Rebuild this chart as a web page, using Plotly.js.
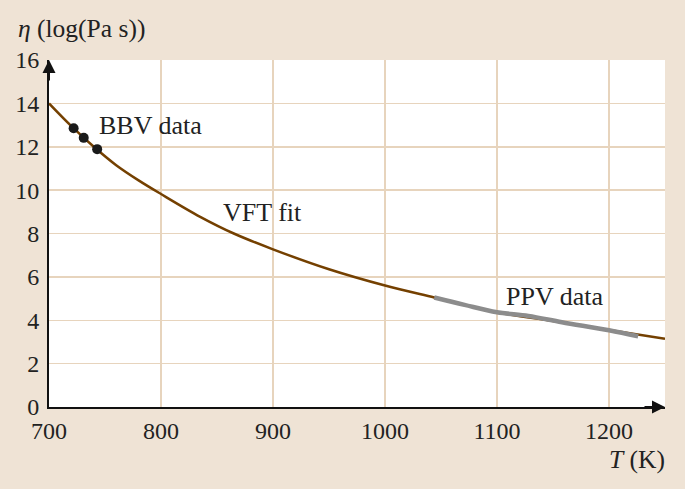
<!DOCTYPE html>
<html>
<head>
<meta charset="utf-8">
<script src="https://cdn.plot.ly/plotly-3.0.1.min.js"></script>
<style>html,body{margin:0;padding:0;background:#efe3d5;}</style>
</head>
<body>
<div id="chart" style="width:685px;height:489px;"></div>
<script>
// VFT fit curve (T in K, log viscosity)
const vftT   = [700, 720, 740, 760, 780, 800, 835, 865, 900, 950, 1000, 1044, 1100, 1150, 1200, 1250];
const vftEta = [14.0, 12.95, 12.0, 11.15, 10.45, 9.82, 8.77, 8.0, 7.27, 6.35, 5.6, 5.05, 4.37, 3.96, 3.55, 3.15];
// PPV data
const ppvT   = [1044, 1071, 1100, 1128, 1158, 1200, 1226];
const ppvEta = [5.05, 4.71, 4.37, 4.2, 3.91, 3.54, 3.26];
// BBV data
const bbvT   = [722, 731, 743];
const bbvEta = [12.85, 12.41, 11.89];

const xTicks = [700, 800, 900, 1000, 1100, 1200];
const yTicks = [0, 2, 4, 6, 8, 10, 12, 14, 16];

const FONT = "'Liberation Serif', 'Times New Roman', Times, serif";
const BROWN = "#744000";

const traces = [
  {x: vftT, y: vftEta, mode: "lines", line: {color: BROWN, width: 2.5, shape: "spline", smoothing: 1}, hoverinfo: "skip"},
  {x: ppvT, y: ppvEta, mode: "lines", line: {color: "#8c8c8c", width: 4.5, shape: "spline"}, hoverinfo: "skip"},
  {x: bbvT, y: bbvEta, mode: "markers", marker: {color: "#1a1a1a", size: 10}, hoverinfo: "skip"}
];

const tf = {family: FONT, size: 24, color: "#222"};
const lf = {family: FONT, size: 26, color: "#222"};

const layout = {
  width: 685, height: 489,
  margin: {l: 49, r: 20, t: 60, b: 82},
  paper_bgcolor: "#efe3d5",
  plot_bgcolor: "#ffffff",
  showlegend: false,
  font: tf,
  xaxis: {
    range: [700, 1250], tickvals: xTicks, ticktext: xTicks.map(String),
    showgrid: true, gridcolor: "#e7d4bd", gridwidth: 1.5,
    zeroline: false, showline: true, linecolor: "#111", linewidth: 2,
    ticks: "", ticklabelstandoff: 1, tickfont: tf
  },
  yaxis: {
    range: [0, 16], tickvals: yTicks, ticktext: yTicks.map(String),
    showgrid: true, gridcolor: "#e7d4bd", gridwidth: 1.5,
    zeroline: false, showline: true, linecolor: "#111", linewidth: 2,
    ticks: "", ticklabelstandoff: 3, tickfont: tf
  },
  annotations: [
    {xref: "paper", yref: "paper", x: -0.053, y: 1.0, yshift: 32, xanchor: "left", yanchor: "middle",
     text: "<i>η</i> (log(Pa s))", showarrow: false, font: {family: FONT, size: 25.5, color: "#222"}},
    {xref: "paper", yref: "paper", x: 1.004, y: 0, yshift: -52, xanchor: "right", yanchor: "middle",
     text: "<i>T</i> (K)", showarrow: false, font: {family: FONT, size: 25.5, color: "#222"}},
    {x: 743, y: 13.0, xanchor: "left", yanchor: "middle", text: "BBV data", showarrow: false, font: lf},
    {x: 854, y: 8.96, xanchor: "left", yanchor: "middle", text: "VFT fit", showarrow: false, font: lf},
    {x: 1106, y: 5.08, xanchor: "left", yanchor: "middle", text: "PPV data", showarrow: false, font: lf},
    // axis arrowheads
    {xref: "x", yref: "paper", x: 700, y: 1, ax: 0, ay: 22, text: "", showarrow: true,
     arrowhead: 2, arrowsize: 1.3, arrowwidth: 2, arrowcolor: "#111", standoff: 0},
    {xref: "paper", yref: "y", x: 1, y: 0, ax: -22, ay: 0, text: "", showarrow: true,
     arrowhead: 2, arrowsize: 1.3, arrowwidth: 2, arrowcolor: "#111", standoff: 0}
  ]
};

Plotly.newPlot("chart", traces, layout, {staticPlot: true, displayModeBar: false});
</script>
</body>
</html>
